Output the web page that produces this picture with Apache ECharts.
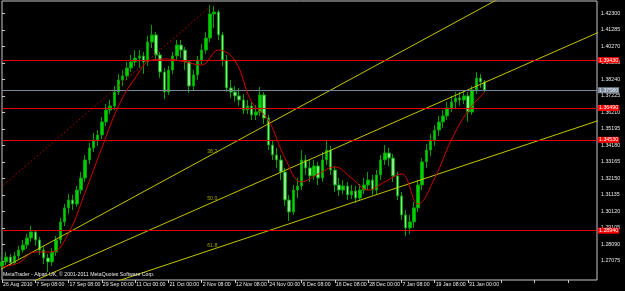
<!DOCTYPE html>
<html><head><meta charset="utf-8">
<script src="https://cdn.jsdelivr.net/npm/echarts@6/dist/echarts.min.js"></script>
<style>html,body{margin:0;padding:0;background:#000;}#c{width:625px;height:291px;}</style>
</head><body><div id="c"></div>
<script>
const tickLabels = ['26 Aug 2010','7 Sep 08:00','17 Sep 08:00','29 Sep 00:00','11 Oct 00:00','21 Oct 00:00','2 Nov 08:00','12 Nov 08:00','24 Nov 00:00','6 Dec 08:00','16 Dec 08:00','28 Dec 00:00','7 Jan 08:00','19 Jan 08:00','31 Jan 00:00'];
const priceTicks = [1.27075,1.28090,1.29105,1.30120,1.31135,1.32150,1.33165,1.34180,1.35195,1.36210,1.37225,1.38240,1.39255,1.40270,1.41285,1.42300];

const openP = [1.2677,1.2702,1.2732,1.2696,1.2739,1.2775,1.2806,1.2849,1.2886,1.2837,
1.2775,1.2726,1.2702,1.2763,1.2837,1.2948,1.3034,1.3083,1.3058,1.3144,
1.3218,1.3329,1.3403,1.3452,1.3483,1.3563,1.3636,1.3661,1.3747,1.3821,
1.3846,1.3895,1.3932,1.3956,1.3969,1.3932,1.4055,1.4098,1.3975,1.3870,
1.3747,1.3882,1.3969,1.4036,1.4005,1.3932,1.3784,1.3852,1.3944,1.4005,
1.4079,1.4227,1.4239,1.4098,1.3944,1.3772,1.3747,1.3723,1.3698,1.3636,
1.3661,1.3606,1.3624,1.3729,1.3587,1.3421,1.3360,1.3329,1.3255,1.3083,
1.3009,1.3144,1.3169,1.3329,1.3280,1.3231,1.3292,1.3218,1.3329,1.3390,
1.3267,1.3175,1.3144,1.3169,1.3114,1.3138,1.3095,1.3144,1.3175,1.3206,
1.3144,1.3237,1.3329,1.3372,1.3341,1.3231,1.3108,1.2991,1.2911,1.2948,
1.3034,1.3175,1.3317,1.3390,1.3452,1.3513,1.3563,1.3600,1.3649,1.3686,
1.3710,1.3698,1.3723,1.3624,1.3759,1.3833,1.3809];
const closeP = [1.2702,1.2732,1.2696,1.2739,1.2775,1.2806,1.2849,1.2886,1.2837,1.2775,
1.2726,1.2702,1.2763,1.2837,1.2948,1.3034,1.3083,1.3058,1.3144,1.3218,
1.3329,1.3403,1.3452,1.3483,1.3563,1.3636,1.3661,1.3747,1.3821,1.3846,
1.3895,1.3932,1.3956,1.3969,1.3932,1.4055,1.4098,1.3975,1.3870,1.3747,
1.3882,1.3969,1.4036,1.4005,1.3932,1.3784,1.3852,1.3944,1.4005,1.4079,
1.4227,1.4239,1.4098,1.3944,1.3772,1.3747,1.3723,1.3698,1.3636,1.3661,
1.3606,1.3624,1.3729,1.3587,1.3421,1.3360,1.3329,1.3255,1.3083,1.3009,
1.3144,1.3169,1.3329,1.3280,1.3231,1.3292,1.3218,1.3329,1.3390,1.3267,
1.3175,1.3144,1.3169,1.3114,1.3138,1.3095,1.3144,1.3175,1.3206,1.3144,
1.3237,1.3329,1.3372,1.3341,1.3231,1.3108,1.2991,1.2911,1.2948,1.3034,
1.3175,1.3317,1.3390,1.3452,1.3513,1.3563,1.3600,1.3649,1.3686,1.3710,
1.3698,1.3723,1.3624,1.3759,1.3833,1.3809,1.3758];
const lowP = [1.2659,1.2683,1.2677,1.2683,1.2720,1.2757,1.2782,1.2825,1.2800,1.2745,
1.2689,1.2640,1.2677,1.2739,1.2812,1.2923,1.2997,1.3021,1.3040,1.3120,
1.3194,1.3304,1.3378,1.3415,1.3458,1.3538,1.3612,1.3636,1.3729,1.3784,
1.3821,1.3870,1.3907,1.3895,1.3858,1.3907,1.4018,1.3944,1.3833,1.3704,
1.3729,1.3858,1.3944,1.3956,1.3882,1.3741,1.3759,1.3821,1.3919,1.3981,
1.4055,1.4141,1.4067,1.3907,1.3747,1.3710,1.3686,1.3661,1.3612,1.3612,
1.3575,1.3575,1.3600,1.3550,1.3390,1.3329,1.3280,1.3206,1.3046,1.2954,
1.2991,1.3095,1.3144,1.3237,1.3194,1.3206,1.3175,1.3194,1.3298,1.3237,
1.3132,1.3108,1.3120,1.3083,1.3089,1.3065,1.3077,1.3120,1.3144,1.3114,
1.3120,1.3206,1.3298,1.3292,1.3194,1.3083,1.2960,1.2862,1.2874,1.2911,
1.3009,1.3144,1.3280,1.3354,1.3415,1.3477,1.3526,1.3575,1.3624,1.3649,
1.3661,1.3673,1.3563,1.3606,1.3735,1.3772,1.3747];
const highP = [1.2732,1.2763,1.2751,1.2763,1.2800,1.2837,1.2874,1.2923,1.2898,1.2855,
1.2800,1.2751,1.2788,1.2862,1.2972,1.3058,1.3120,1.3114,1.3169,1.3255,
1.3360,1.3434,1.3495,1.3513,1.3593,1.3673,1.3698,1.3784,1.3858,1.3882,
1.3932,1.3975,1.4005,1.4005,1.3993,1.4092,1.4159,1.4116,1.3993,1.3895,
1.3907,1.3993,1.4067,1.4067,1.4024,1.3944,1.3882,1.3969,1.4042,1.4116,
1.4282,1.4276,1.4252,1.4116,1.3975,1.3821,1.3784,1.3772,1.3735,1.3698,
1.3686,1.3667,1.3778,1.3747,1.3606,1.3452,1.3403,1.3360,1.3280,1.3114,
1.3175,1.3218,1.3390,1.3360,1.3329,1.3329,1.3317,1.3378,1.3452,1.3415,
1.3292,1.3218,1.3206,1.3194,1.3175,1.3169,1.3181,1.3218,1.3255,1.3237,
1.3267,1.3360,1.3421,1.3403,1.3366,1.3255,1.3132,1.3021,1.2991,1.3071,
1.3206,1.3341,1.3427,1.3489,1.3544,1.3600,1.3636,1.3686,1.3723,1.3747,
1.3747,1.3759,1.3747,1.3784,1.3870,1.3858,1.3821];

const maIdx = [0,4,8,12,16,20,24,28,32,36,40,44,48,52,56,60,64,68,72,76,80,84,88,92,96,100,104,108,112,116];
const maVal = [1.2671,1.2696,1.2763,1.2763,1.2880,1.3132,1.3403,1.3661,1.3833,1.3944,1.3950,1.3932,1.3913,1.4005,1.3940,1.3686,1.3575,1.3341,1.3194,1.3243,1.3286,1.3218,1.3144,1.3194,1.3243,1.3058,1.3218,1.3452,1.3630,1.3747];

const fanA = [[-2.57,1.2625],[124.5,1.4392]];
const fanB = [[-2.57,1.2469],[146.1,1.4145]];
const fanC = [[23.81,1.2550],[146.1,1.3595]];
const baseLine = [[-2.57,1.3110],[50.5,1.4282]];
const fanLevels = ['38.2','50.0','61.8'];
const fanLabelPrice = [1.3378,1.3089,1.2800];
const fanLabelIdx = 49.2;

const hLevels = [1.39430,1.36490,1.34530,1.28940];
const bidLevel = 1.37580;

const N_SLOTS = 144;
const FONT = 'Liberation Sans';
const categories = Array.from({length: N_SLOTS}, (_, i) => String(i));
const candles = openP.map((o, i) => [o, closeP[i], lowP[i], highP[i]]);

const chart = echarts.init(document.getElementById('c'), null, {renderer: 'canvas'});
const lineSeries = (data, color, type) => ({
  type: 'line', xAxisIndex: 1, yAxisIndex: 0, data, showSymbol: false, silent: true, clip: true,
  lineStyle: {color, width: 1, type: type || 'solid'}, z: 4
});
const levelLine = (v, lineColor, bg, fg) => ({
  yAxis: v,
  lineStyle: {color: lineColor, width: 1, type: 'solid', opacity: 1},
  emphasis: {disabled: true},
  label: {show: true, position: 'end', distance: 1, fontSize: 5.3, fontFamily: FONT, padding: [1,1,0,1],
    backgroundColor: bg, color: fg, formatter: p => Number(p.value).toFixed(5)}
});
chart.setOption({
  animation: false,
  backgroundColor: '#000',
  textStyle: {fontFamily: FONT},
  grid: {left: 1, right: 28, top: 1, bottom: 11, show: true, borderColor: '#c8c8c8', borderWidth: 1, backgroundColor: '#000'},
  xAxis: [{
    type: 'category', data: categories, boundaryGap: false,
    axisLine: {show: false},
    axisTick: {show: true, interval: 7, length: 3, lineStyle: {color: '#c8c8c8'}},
    axisLabel: {interval: 7, color: '#e8e8e8', fontSize: 5.2, fontFamily: FONT, align: 'left', margin: 2, padding: [0,0,0,1],
      formatter: (v, idx) => (idx % 8 === 0 && tickLabels[idx / 8]) ? tickLabels[idx / 8] : ''},
    splitLine: {show: false}
  }, {
    type: 'value', min: 0, max: N_SLOTS - 1, show: false
  }],
  yAxis: [{
    type: 'value', position: 'right', min: 1.25906, max: 1.43069, scale: true,
    axisLine: {show: false},
    axisTick: {show: true, customValues: priceTicks, length: 3, lineStyle: {color: '#c8c8c8'}},
    axisLabel: {customValues: priceTicks, color: '#e8e8e8', fontSize: 5.3, fontFamily: FONT, margin: 4, formatter: v => v.toFixed(5)},
    splitLine: {show: false}
  }],
  graphic: [{
    type: 'text', left: 3, top: 272, z: 10,
    style: {text: 'MetaTrader - Alpari UK, © 2001-2011 MetaQuotes Software Corp.', fill: '#e8e8e8', fontSize: 5.2, fontFamily: FONT}
  }],
  series: [{
    type: 'candlestick', xAxisIndex: 0, yAxisIndex: 0, data: candles, barWidth: 3,
    itemStyle: {color: '#00d000', color0: '#8fe88f', borderColor: '#00a000', borderColor0: '#00a000', borderWidth: 1},
    z: 2,
    markLine: {
      silent: true, symbol: ['none', 'none'], precision: 5, animation: false,
      lineStyle: {color: '#d00000', width: 1, type: 'solid'},
      data: hLevels.map(v => levelLine(v, '#e00000', '#ff0000', '#ffffff'))
        .concat([levelLine(bidLevel, '#778899', '#7b8a9b', '#e6ecf5')])
    }
  },
  {
    type: 'line', xAxisIndex: 1, yAxisIndex: 0, data: maIdx.map((x, i) => [x, maVal[i]]),
    smooth: 0.4, showSymbol: false, silent: true, lineStyle: {color: '#d40000', width: 1}, z: 5
  },
  lineSeries(fanA, '#c4c400'),
  lineSeries(fanB, '#c4c400'),
  lineSeries(fanC, '#c4c400'),
  lineSeries(baseLine, '#c00000', [1.5, 2.5]),
  {
    type: 'scatter', xAxisIndex: 1, yAxisIndex: 0, symbolSize: 1, silent: true,
    itemStyle: {color: 'rgba(0,0,0,0)'},
    data: fanLevels.map((t, i) => ({value: [fanLabelIdx, fanLabelPrice[i]], name: t})),
    label: {show: true, position: 'right', distance: 0, color: '#c8c800', fontSize: 5.2, fontFamily: FONT,
      formatter: p => p.name},
    z: 6
  }]
});
</script></body></html>
